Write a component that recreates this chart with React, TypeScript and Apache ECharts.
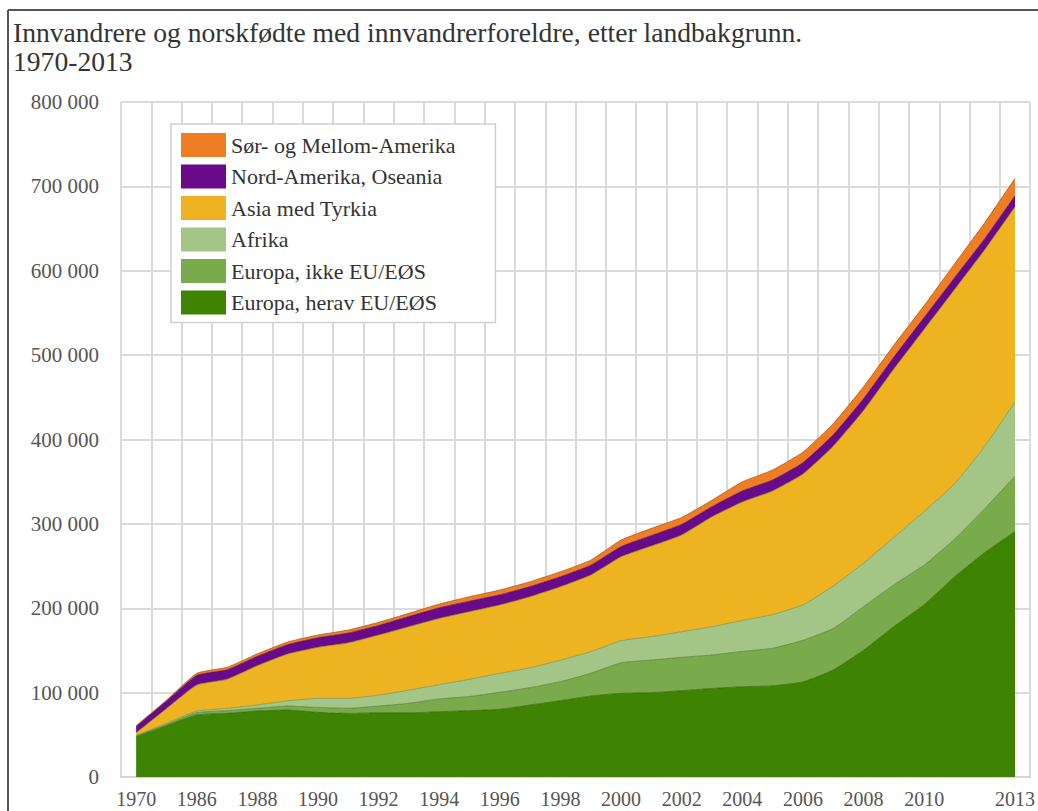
import React, { useEffect, useRef } from "react";
import * as echarts from "echarts";

const years = [
  "1970", "1980", "1986", "1987", "1988", "1989", "1990", "1991", "1992", "1993",
  "1994", "1995", "1996", "1997", "1998", "1999", "2000", "2001", "2002", "2003",
  "2004", "2005", "2006", "2007", "2008", "2009", "2010", "2011", "2012", "2013",
];

const europaEU = [
  47800, 60800, 73500, 75400, 78200, 79400, 76600, 75400, 76000, 76000,
  77400, 78600, 80200, 85300, 90400, 96000, 99100, 99900, 102300, 105000,
  107000, 108000, 112700, 126800, 150200, 178400, 204200, 237100, 266000, 291000,
];
const europaIkkeEU = [
  800, 1500, 2700, 3200, 3200, 4700, 5900, 6000, 8100, 11300,
  15100, 16800, 20200, 20600, 22600, 26900, 36300, 38700, 39500, 39600,
  41800, 44600, 49300, 49200, 51700, 49300, 47000, 44600, 52000, 65700,
];
const afrika = [
  500, 1200, 2000, 2800, 3900, 6300, 10700, 11800, 12900, 15700,
  17000, 20400, 22500, 23600, 25600, 25600, 26100, 27700, 30400, 33500,
  36700, 39900, 42000, 50300, 51600, 56300, 63400, 65700, 74000, 88000,
];
const asia = [
  3400, 17500, 30800, 34400, 46700, 55400, 60500, 65800, 71300, 75200,
  78500, 80200, 81000, 84200, 86900, 90800, 99500, 107400, 114600, 130300,
  140500, 146500, 155000, 165700, 180800, 199600, 215900, 230100, 233000, 231300,
];
const nordAmerika = [
  7500, 9000, 11400, 11200, 11000, 11000, 11300, 11600, 11300, 12000,
  12500, 12400, 12000, 12000, 11900, 11700, 12000, 12500, 12500, 12000,
  13000, 13000, 13500, 13500, 14000, 14000, 14000, 14000, 13000, 13000,
];
const sorAmerika = [
  800, 1000, 2500, 3000, 3000, 3200, 3300, 3600, 3700, 3800,
  4500, 5300, 5700, 5800, 5900, 6000, 7800, 8500, 8400, 7600,
  10800, 11900, 12500, 13300, 14200, 14200, 14200, 16500, 19000, 20500,
];

const seriesNames = [
  "Europa, herav EU/EØS",
  "Europa, ikke EU/EØS",
  "Afrika",
  "Asia med Tyrkia",
  "Nord-Amerika, Oseania",
  "Sør- og Mellom-Amerika",
];
const seriesData = [europaEU, europaIkkeEU, afrika, asia, nordAmerika, sorAmerika];
const fillColors = ["#3e8402", "#79aa4b", "#a3c686", "#edb321", "#680a8a", "#ee7d24"];
const edgeColors = ["#2f5f0a", "#4f7a30", "#6f8f55", "#9a7a20", "#4a0a60", "#a8561a"];

const FONT = "Liberation Serif";

export default function App() {
  const ref = useRef<HTMLDivElement>(null);

  useEffect(() => {
    if (!ref.current) return;
    const chart = echarts.init(ref.current, null, { renderer: "svg" });
    const lastIdx = years.length - 1;
    chart.setOption({
      animation: false,
      backgroundColor: "#ffffff",
      textStyle: { fontFamily: FONT },
      title: {
        text: "Innvandrere og norskfødte med innvandrerforeldre, etter landbakgrunn.\n1970-2013",
        left: 13,
        top: 18,
        padding: 0,
        textStyle: {
          fontFamily: FONT,
          fontSize: 27.6,
          fontWeight: "normal",
          color: "#333",
          lineHeight: 29,
        },
      },
      graphic: [
        { type: "line", shape: { x1: 8, y1: 10, x2: 8, y2: 811 }, style: { stroke: "#555", lineWidth: 2 }, z: 100 },
        { type: "line", shape: { x1: 8, y1: 10, x2: 1038, y2: 10 }, style: { stroke: "#555", lineWidth: 2 }, z: 100 },
      ],
      legend: {
        data: [...seriesNames].reverse(),
        orient: "vertical",
        left: 171,
        top: 124,
        itemWidth: 45,
        itemHeight: 24,
        itemGap: 7.5,
        padding: [9, 40, 8, 10],
        backgroundColor: "#ffffff",
        borderColor: "#cfcfcf",
        borderWidth: 1.5,
        icon: "rect",
        textStyle: { fontFamily: FONT, fontSize: 22, color: "#333" },
        z: 10,
      },
      grid: { left: 121, right: 5, top: 102, bottom: 34, containLabel: false },
      xAxis: {
        type: "category",
        data: years,
        boundaryGap: true,
        axisLine: { show: true, lineStyle: { color: "#d4d4d4", width: 2 } },
        axisTick: { show: false, interval: 0 },
        splitLine: { show: true, interval: 0, lineStyle: { color: "#dadada", width: 2 } },
        axisLabel: {
          interval: (i: number) => i === lastIdx || (i % 2 === 0 && i <= 26),
          fontFamily: FONT,
          fontSize: 20,
          color: "#555",
          margin: 12,
        },
      },
      yAxis: {
        type: "value",
        min: 0,
        max: 800000,
        interval: 100000,
        axisLine: { show: false },
        axisTick: { show: false },
        splitLine: { show: true, lineStyle: { color: "#dadada", width: 2 } },
        axisLabel: {
          fontFamily: FONT,
          fontSize: 21,
          color: "#555",
          margin: 22,
          formatter: (v: number) =>
            v === 0 ? "0" : String(v).replace(/\B(?=(\d{3})+(?!\d))/g, " "),
        },
      },
      series: seriesNames.map((name, k) => ({
        name,
        type: "line",
        stack: "total",
        data: seriesData[k],
        smooth: 0.15,
        showSymbol: false,
        symbol: "none",
        itemStyle: { color: fillColors[k] },
        lineStyle: { color: edgeColors[k], width: 1, opacity: 0.7 },
        areaStyle: { color: fillColors[k], opacity: 1 },
        emphasis: { disabled: true },
      })),
    });
    return () => chart.dispose();
  }, []);

  return (
    <div
      ref={ref}
      style={{ position: "absolute", left: 0, top: 0, width: 1038, height: 811, background: "#fff" }}
    />
  );
}
